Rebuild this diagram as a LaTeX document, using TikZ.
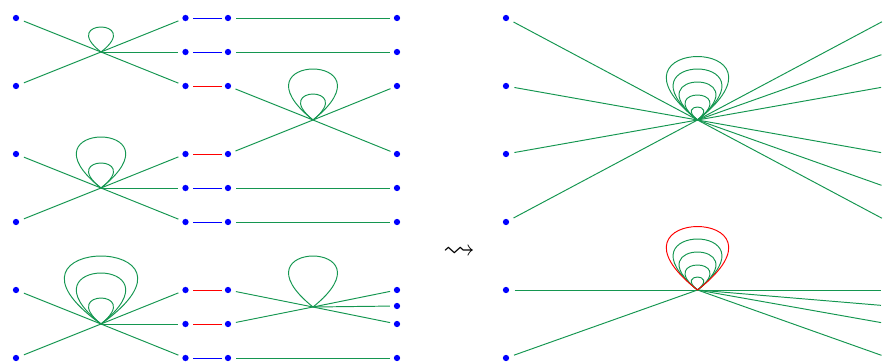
\documentclass[tikz,border=0pt]{standalone}
\usepackage{amssymb}
\usetikzlibrary{calc}
\definecolor{wirec}{RGB}{20,150,80}
\tikzset{
  x=0.75pt,y=-0.75pt,
  dot/.style={circle,fill=blue,draw=none,inner sep=0pt,minimum size=4.7pt,outer sep=#1},
  dot/.default=3.7pt,
  wire/.style={draw=wirec,line width=0.72pt},
  good/.style={draw=blue,line width=0.72pt,shorten >=-1.3pt},
  bad/.style={draw=red,line width=0.72pt,shorten >=-1.3pt},
}
\newcommand{\lp}[4][wire]{\draw[#1] (#2) .. controls ($(#2)+(-1.73*#3,-1.333*#4)$) and ($(#2)+(1.73*#3,-1.333*#4)$) .. (#2);}
\begin{document}
\begin{tikzpicture}
\useasboundingbox (0,0) rectangle (885,361);
% dots, by column
\foreach \n/\y in {a1/18,a2/86,a3/154,a4/222,a5/290,a6/358}{\node[dot=4.05pt] (\n) at (16,\y) {};}
\foreach \n/\y in {b1/18,b2/52,b3/86,b4/154,b5/188,b6/222,b7/290,b8/324,b9/358}{\node[dot=3.4pt] (\n) at (185.5,\y) {};}
\foreach \n/\y in {c1/18,c2/52,c3/86,c4/154,c5/188,c6/222,c7/290,c8/324,c9/358}{\node[dot] (\n) at (228,\y) {};}
\foreach \n/\y in {d1/18,d2/52,d3/86,d4/154,d5/188,d6/222,d7/290,d8/306,d9/324,d10/358}{\node[dot=2.95pt] (\n) at (397,\y) {};}
\foreach \n/\y in {e1/18,e2/86,e3/154,e4/222,e5/290,e6/358}{\node[dot=4.05pt] (\n) at (506,\y) {};}
\foreach \n/\y in {f1/18,f2/52,f3/86,f4/154,f5/188,f6/222,f7/290,f8/306,f9/324,f10/358}{\node[dot] (\n) at (889,\y) {};}
% vertices
\coordinate (v1) at (101,52);
\coordinate (v2) at (101,188);
\coordinate (v3) at (101,324);
\coordinate (v4) at (313,120);
\coordinate (v5) at (313,307);
\coordinate (v6) at (697.5,120);
\coordinate (v7) at (697.5,290);
% gluing segments
\draw[good] (b1)--(c1); \draw[good] (b2)--(c2); \draw[bad] (b3)--(c3);
\draw[bad] (b4)--(c4); \draw[good] (b5)--(c5); \draw[good] (b6)--(c6);
\draw[bad] (b7)--(c7); \draw[bad] (b8)--(c8); \draw[good] (b9)--(c9);
% straight strands
\draw[wire] (c1)--(d1); \draw[wire] (c2)--(d2); \draw[wire] (c5)--(d5);
\draw[wire] (c6)--(d6); \draw[wire] (c9)--(d10);
% first vertex
\draw[wire] (a1)--(v1); \draw[wire] (a2)--(v1); \draw[wire] (b1)--(v1); \draw[wire] (b2)--(v1); \draw[wire] (b3)--(v1);
\lp{v1}{25}{25}
% second vertex
\draw[wire] (a3)--(v2); \draw[wire] (a4)--(v2); \draw[wire] (b4)--(v2); \draw[wire] (b5)--(v2); \draw[wire] (b6)--(v2);
\lp{v2}{25}{25}
\lp{v2}{49.5}{51}
% third vertex
\draw[wire] (a5)--(v3); \draw[wire] (a6)--(v3); \draw[wire] (b7)--(v3); \draw[wire] (b8)--(v3); \draw[wire] (b9)--(v3);
\lp{v3}{25}{26}
\lp{v3}{49.5}{51}
\lp{v3}{73.5}{68}
% fourth vertex
\draw[wire] (c3)--(v4); \draw[wire] (c4)--(v4); \draw[wire] (d3)--(v4); \draw[wire] (d4)--(v4);
\lp{v4}{25}{26}
\lp{v4}{49}{51}
% fifth vertex
\draw[wire] (c7)--(v5); \draw[wire] (c8)--(v5); \draw[wire] (d7)--(v5); \draw[wire] (d8)--(v5); \draw[wire] (d9)--(v5);
\lp{v5}{49}{51}
% squiggle
\node[inner sep=0pt] (sq) at (459,252.5) {\fontsize{24}{24}\selectfont$\rightsquigarrow$};
% right top
\draw[wire] (e1)--(v6); \draw[wire] (e2)--(v6); \draw[wire] (e3)--(v6); \draw[wire] (e4)--(v6);
\draw[wire] (f1)--(v6); \draw[wire] (f2)--(v6); \draw[wire] (f3)--(v6); \draw[wire] (f4)--(v6); \draw[wire] (f5)--(v6); \draw[wire] (f6)--(v6);
\lp{v6}{12.5}{13}
\lp{v6}{25}{25}
\lp{v6}{37}{38}
\lp{v6}{49}{51}
\lp{v6}{62.5}{63.5}
% right bottom
\draw[wire] (e5)--(v7); \draw[wire] (e6)--(v7);
\draw[wire] (f7)--(v7); \draw[wire] (f8)--(v7); \draw[wire] (f9)--(v7); \draw[wire] (f10)--(v7);
\lp{v7}{12.5}{13}
\lp{v7}{25}{25}
\lp{v7}{37}{38}
\lp{v7}{49}{51}
\lp[draw=red,line width=0.72pt]{v7}{62.5}{63.5}
\end{tikzpicture}
\end{document}
